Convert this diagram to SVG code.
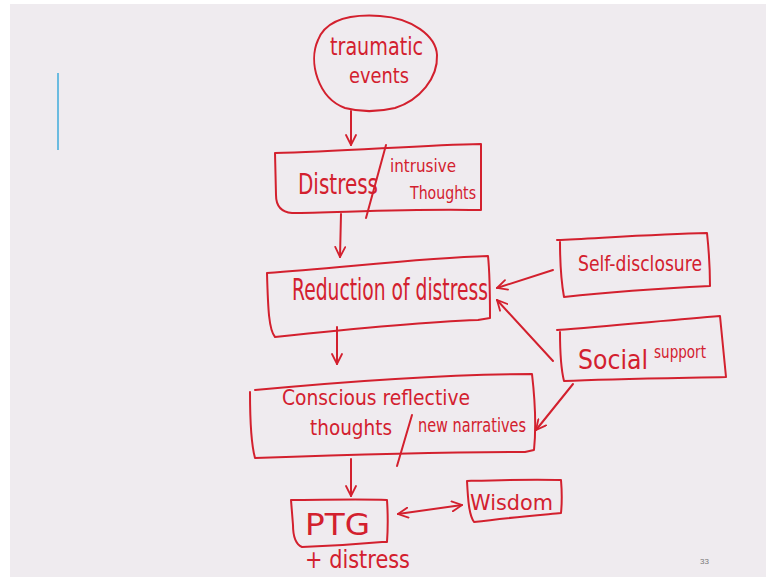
<svg xmlns="http://www.w3.org/2000/svg" width="766" height="577" viewBox="0 0 766 577">
<style>
.ink{fill:none;stroke:#d3202e;stroke-width:2;stroke-linecap:round;stroke-linejoin:round}
.t{fill:#d3202e;font-family:"DejaVu Sans","Liberation Sans",sans-serif;font-weight:normal}
</style>
<defs>
<marker id="ah" viewBox="0 0 12 12" refX="11" refY="6" markerWidth="12" markerHeight="12" markerUnits="userSpaceOnUse" orient="auto-start-reverse">
<path d="M1,1 L11,6 L1,11" fill="none" stroke="#d3202e" stroke-width="1.8" stroke-linecap="round"/>
</marker>
</defs>
<rect x="0" y="0" width="766" height="577" fill="#ffffff"/>
<rect x="10" y="4" width="756" height="573" fill="#efebef"/>
<line x1="58" y1="73" x2="58" y2="150" stroke="#6bbbe0" stroke-width="2"/>

<g id="traumatic-events">
<path class="ink" d="M345,108 C318,98 308,62 318,40 C326,20 350,14 380,16 C412,18 436,36 437,55 C438,78 420,100 395,108 C378,112 360,112 345,108 Z"/>
<text class="t" x="330" y="55" font-size="24" textLength="93" lengthAdjust="spacingAndGlyphs">traumatic</text>
<text class="t" x="349" y="83" font-size="22" textLength="60" lengthAdjust="spacingAndGlyphs">events</text>
</g>

<g id="distress-intrusive">
<path class="ink" d="M275,153 C340,152 420,145 481,144 L481,210 L470,210 C400,209 330,213 292,213 C280,212 276,205 276,195 L275,153"/>
<path class="ink" d="M386,145 L366,218"/>
<text class="t" x="298" y="194" font-size="28" textLength="80" lengthAdjust="spacingAndGlyphs">Distress</text>
<text class="t" x="390" y="172" font-size="18" textLength="66" lengthAdjust="spacingAndGlyphs">intrusive</text>
<text class="t" x="410" y="199" font-size="18" textLength="66" lengthAdjust="spacingAndGlyphs">Thoughts</text>
</g>

<g id="reduction">
<path class="ink" d="M267,273 C340,268 420,258 488,256 C490,275 490,300 490,318 L478,320 C420,322 340,330 275,337 C269,330 268,310 267,273"/>
<text class="t" x="292" y="300" font-size="30" textLength="196" lengthAdjust="spacingAndGlyphs">Reduction of distress</text>
</g>

<g id="conscious">
<path class="ink" d="M255,390 C340,382 450,374 532,374 C535,400 536,430 534,450 L525,452 C440,452 340,455 255,458 C250,440 250,410 250,392"/>
<path class="ink" d="M412,415 L397,466"/>
<text class="t" x="282" y="405" font-size="22" textLength="188" lengthAdjust="spacingAndGlyphs">Conscious reflective</text>
<text class="t" x="310" y="435" font-size="22" textLength="82" lengthAdjust="spacingAndGlyphs">thoughts</text>
<text class="t" x="418" y="432" font-size="19" textLength="108" lengthAdjust="spacingAndGlyphs">new narratives</text>
</g>

<g id="ptg">
<path class="ink" d="M291,500 C320,500 360,499 387,500 C388,515 388,528 387,542 L382,542 C360,544 330,546 302,547 C295,544 293,535 293,525 L291,500"/>
<text class="t" x="305" y="535" font-size="30" textLength="65" lengthAdjust="spacingAndGlyphs">PTG</text>
</g>

<g id="plus-distress">
<text class="t" x="305" y="568" font-size="24" textLength="105" lengthAdjust="spacingAndGlyphs">+ distress</text>
</g>

<g id="wisdom">
<path class="ink" d="M467,481 C500,480 530,479 561,480 C562,492 562,503 561,513 C540,515 505,518 474,522 C469,515 468,500 467,481"/>
<text class="t" x="470" y="510" font-size="22" textLength="83" lengthAdjust="spacingAndGlyphs">Wisdom</text>
</g>

<g id="self-disclosure">
<path class="ink" d="M557,240 C600,238 660,234 707,233 C709,252 710,270 710,286 C670,288 610,292 564,297 C561,280 560,260 560,242"/>
<text class="t" x="578" y="271" font-size="22" textLength="124" lengthAdjust="spacingAndGlyphs">Self-disclosure</text>
</g>

<g id="social-support">
<path class="ink" d="M557,330 C610,326 670,320 720,316 C722,335 724,358 726,377 C680,378 610,379 564,381 C560,365 560,345 560,332"/>
<text class="t" x="578" y="369" font-size="26" textLength="70" lengthAdjust="spacingAndGlyphs">Social</text>
<text class="t" x="654" y="358" font-size="17" textLength="52" lengthAdjust="spacingAndGlyphs">support</text>
</g>

<g id="connectors">
<path class="ink" d="M351,111 L351,145" marker-end="url(#ah)"/>
<path class="ink" d="M341,214 L340,257" marker-end="url(#ah)"/>
<path class="ink" d="M337,327 L337,364" marker-end="url(#ah)"/>
<path class="ink" d="M351,459 L351,496" marker-end="url(#ah)"/>
<path class="ink" d="M553,270 L497,288" marker-end="url(#ah)"/>
<path class="ink" d="M553,361 L497,300" marker-end="url(#ah)"/>
<path class="ink" d="M573,384 L536,430" marker-end="url(#ah)"/>
<path class="ink" d="M398,514 L462,505" marker-start="url(#ah)" marker-end="url(#ah)"/>
</g>

<text x="700" y="564" font-size="8" fill="#777777" font-family="Liberation Sans, sans-serif">33</text>
</svg>
